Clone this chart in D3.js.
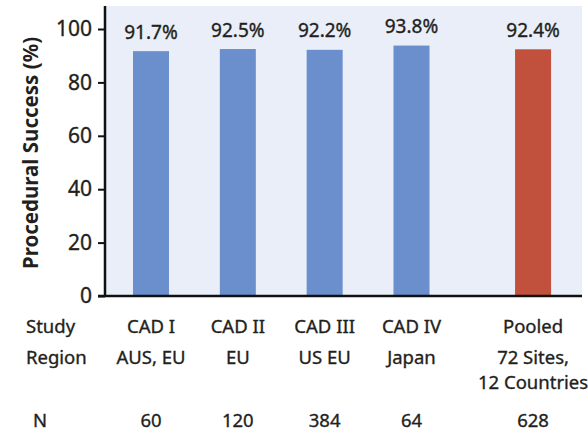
<!DOCTYPE html>
<meta charset="utf-8">
<style>
body { margin: 0; background: #fff; }
text { font-family: "Noto Sans", sans-serif; fill: #231f20; stroke: #231f20; stroke-width: 0.35px; }
.axis path, .axis line { stroke: #111; }
</style>
<body>
<script src="https://cdn.jsdelivr.net/npm/d3@7"></script>
<script>

// chart data
var studies  = ["CAD I", "CAD II", "CAD III", "CAD IV", "Pooled"];
var regions  = ["AUS, EU", "EU", "US EU", "Japan", "72 Sites,\n12 Countries"];
var nValues  = [60, 120, 384, 64, 628];
var success  = [91.7, 92.5, 92.2, 93.8, 92.4];
var yTicks   = [0, 20, 40, 60, 80, 100];

var width = 588, height = 431;

var svg = d3.select("body").append("svg")
    .attr("width", width)
    .attr("height", height);

// scales: pooled bar sits a little further out than the others
var y = d3.scaleLinear().domain([0, 100]).range([296, 29]);
var x = d3.scaleLinear().domain([0, 3]).range([151, 411.5]);
function xPos(i) { return x(i === 4 ? 4.4 : i); }
var barW = 36;

// panel background
svg.append("rect")
    .attr("x", 105).attr("y", 6)
    .attr("width", 477).attr("height", y(0) - 6)
    .attr("fill", "#e9eef8");

// bars
svg.selectAll(".bar")
    .data(success)
  .enter().append("rect")
    .attr("class", "bar")
    .attr("x", function(d, i) { return xPos(i) - barW / 2; })
    .attr("y", function(d) { return y(d); })
    .attr("width", barW)
    .attr("height", function(d) { return y(0) - y(d); })
    .attr("fill", function(d, i) { return i === 4 ? "#c1503c" : "#6a8fcc"; });

// value labels
svg.selectAll(".val")
    .data(success)
  .enter().append("text")
    .attr("class", "val")
    .attr("x", function(d, i) { return xPos(i); })
    .attr("y", function(d) { return y(d) - 12.5; })
    .attr("text-anchor", "middle")
    .style("font-size", "19px")
    .text(function(d) { return d.toFixed(1) + "%"; });

// y axis
var yAxis = svg.append("g")
    .attr("class", "axis")
    .attr("transform", "translate(105,0)")
    .call(d3.axisLeft(y).tickValues(yTicks).tickSize(7).tickPadding(6).tickSizeOuter(0));
yAxis.select(".domain").remove();
yAxis.selectAll(".tick line").attr("stroke-width", 2);
yAxis.selectAll(".tick text")
    .style("font-size", "21px")
    .style("font-family", "'Noto Sans', sans-serif")
    .attr("fill", "#231f20");

// axis lines
svg.append("line")
    .attr("x1", 105).attr("x2", 105)
    .attr("y1", 6).attr("y2", y(0))
    .attr("stroke", "#111").attr("stroke-width", 2.5);
svg.append("line")
    .attr("x1", 98).attr("x2", 582)
    .attr("y1", y(0)).attr("y2", y(0))
    .attr("stroke", "#111").attr("stroke-width", 2.5);

// y title
svg.append("text")
    .attr("transform", "translate(38," + 153 + ") rotate(-90)")
    .attr("text-anchor", "middle")
    .style("font-size", "20.5px")
    .style("font-weight", "bold")
    .style("stroke-width", 0)
    .text("Procedural Success (%)");

// table rows below the chart
var rowFont = "18.5px";
svg.append("text").attr("x", 26).attr("y", 333).style("font-size", rowFont).text("Study");
svg.append("text").attr("x", 26).attr("y", 364).style("font-size", rowFont).text("Region");
svg.append("text").attr("x", 33).attr("y", 427).style("font-size", rowFont).text("N");

svg.selectAll(".study")
    .data(studies)
  .enter().append("text")
    .attr("x", function(d, i) { return xPos(i); })
    .attr("y", 333)
    .attr("text-anchor", "middle")
    .style("font-size", rowFont)
    .text(function(d) { return d; });

svg.selectAll(".region")
    .data(regions)
  .enter().append("text")
    .attr("x", function(d, i) { return xPos(i); })
    .attr("y", 364)
    .attr("text-anchor", "middle")
    .style("font-size", rowFont)
    .each(function(d, i) {
      var t = d3.select(this);
      d.split("\n").forEach(function(line, j) {
        t.append("tspan")
          .attr("x", xPos(i))
          .attr("dy", j === 0 ? 0 : 25)
          .text(line);
      });
    });

svg.selectAll(".n")
    .data(nValues)
  .enter().append("text")
    .attr("x", function(d, i) { return xPos(i); })
    .attr("y", 427)
    .attr("text-anchor", "middle")
    .style("font-size", rowFont)
    .text(function(d) { return d; });

</script>
</body>
